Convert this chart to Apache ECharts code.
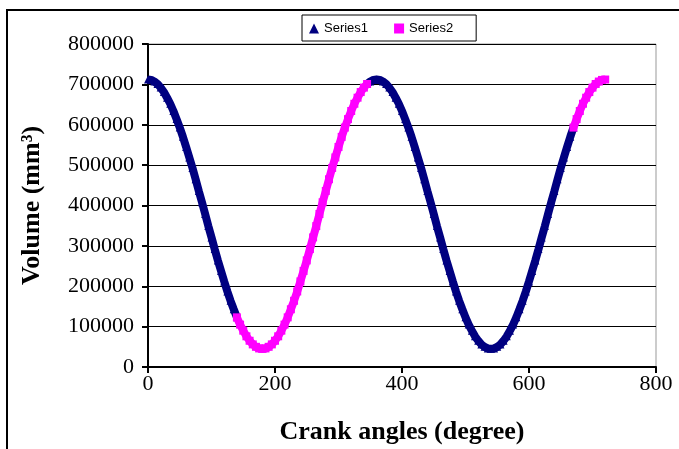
<!DOCTYPE html>
<html>
<head>
<meta charset="utf-8">
<script src="https://cdn.jsdelivr.net/npm/echarts@6/dist/echarts.min.js"></script>
<style>
html,body{margin:0;padding:0;background:#fff;}
#c{width:679px;height:449px;}
</style>
</head>
<body>
<div id="c"></div>
<script>
// Series1 segment A (0–140°)
var s1aAngles = [0,5,10,15,20,25,30,35,40,45,50,55,60,65,70,75,80,85,90,95,100,105,110,115,120,125,130,135,140];
var s1aVolume = [712000,711000,707000,701000,692000,681000,667000,652000,634000,614000,593000,570000,545000,519000,493000,465000,436000,408000,379000,349000,321000,292000,264000,238000,212000,187000,164000,143000,123000];
// Series2 segment A (140–345°)
var s2aAngles = [140,145,150,155,160,165,170,175,180,185,190,195,200,205,210,215,220,225,230,235,240,245,250,255,260,265,270,275,280,285,290,295,300,305,310,315,320,325,330,335,340,345];
var s2aVolume = [123000,105000,90000,76000,65000,56000,50000,46000,45000,46000,50000,56000,65000,76000,90000,105000,123000,143000,164000,187000,212000,238000,264000,292000,321000,349000,379000,408000,436000,465000,493000,519000,545000,570000,593000,614000,634000,652000,667000,681000,692000,701000];
// Series1 segment B (345–670°)
var s1bAngles = [345,350,355,360,365,370,375,380,385,390,395,400,405,410,415,420,425,430,435,440,445,450,455,460,465,470,475,480,485,490,495,500,505,510,515,520,525,530,535,540,545,550,555,560,565,570,575,580,585,590,595,600,605,610,615,620,625,630,635,640,645,650,655,660,665,670];
var s1bVolume = [701000,707000,711000,712000,711000,707000,701000,692000,681000,667000,652000,634000,614000,593000,570000,545000,519000,493000,465000,436000,408000,379000,349000,321000,292000,264000,238000,212000,187000,164000,143000,123000,105000,90000,76000,65000,56000,50000,46000,45000,46000,50000,56000,65000,76000,90000,105000,123000,143000,164000,187000,212000,238000,264000,292000,321000,349000,379000,408000,436000,465000,493000,519000,545000,570000,593000];
// Series2 segment B (670–720°)
var s2bAngles = [670,675,680,685,690,695,700,705,710,715,720];
var s2bVolume = [593000,614000,634000,652000,667000,681000,692000,701000,707000,711000,712000];

var xTicks = [0,200,400,600,800];
var yTicks = [0,100000,200000,300000,400000,500000,600000,700000,800000];

function pairs(a,b){ return a.map(function(v,i){ return [v,b[i]]; }); }

var navy = '#000080', magenta = '#FF00FF';
function seg(name, color, sym, a, b){
  return {
    name: name, type: 'line', data: pairs(a,b),
    symbol: sym, symbolSize: 8, showSymbol: true,
    itemStyle: {color: color},
    lineStyle: {color: color, width: 8},
    animation: false, z: name==='Series2'?3:2
  };
}

var chart = echarts.init(document.getElementById('c'), null, {renderer:'canvas'});
chart.setOption({
  backgroundColor: '#fff',
  animation: false,
  graphic: [
    {type:'rect', shape:{x:7,y:10,width:700,height:460}, style:{fill:'none', stroke:'#000', lineWidth:2}, z:-1}
  ],
  legend: {
    left: 302, top: 15,
    padding: [7, 23, 6, 7],
    itemGap: 26,
    itemWidth: 10, itemHeight: 10,
    borderColor: '#000', borderWidth: 1, borderRadius: 0,
    backgroundColor: '#fff',
    textStyle: {fontFamily: 'Liberation Sans', fontSize: 13, color: '#000'},
    data: [
      {name:'Series1', icon:'triangle', itemStyle:{color:navy}},
      {name:'Series2', icon:'rect', itemStyle:{color:magenta}}
    ]
  },
  grid: {left:148, right:23, top:44, bottom:82, show:true, borderColor:'#999', borderWidth:1, backgroundColor:'#fff', outerBoundsMode:'none', containLabel:false},
  xAxis: {
    type:'value', min:xTicks[0], max:xTicks[xTicks.length-1], interval:200,
    name:'Crank angles (degree)', nameLocation:'middle', nameGap:52,
    nameTextStyle:{fontFamily:'Liberation Serif', fontWeight:'bold', fontSize:26, color:'#000'},
    axisLine:{show:true, onZero:false, lineStyle:{color:'#000', width:2}},
    axisTick:{show:true, inside:false, length:6, lineStyle:{color:'#000', width:2}},
    axisLabel:{fontFamily:'Liberation Serif', fontSize:22, color:'#000', margin:6, formatter:function(v){return String(v);}},
    splitLine:{show:false}
  },
  yAxis: {
    type:'value', min:yTicks[0], max:yTicks[yTicks.length-1], interval:100000,
    name:'Volume (mm³)', nameLocation:'middle', nameGap:103, nameRotate:90,
    nameTextStyle:{fontFamily:'Liberation Serif', fontWeight:'bold', fontSize:26, color:'#000'},
    axisLine:{show:true, lineStyle:{color:'#000', width:2}},
    axisTick:{show:true, inside:false, length:6, lineStyle:{color:'#000', width:2}},
    axisLabel:{fontFamily:'Liberation Serif', fontSize:22, color:'#000', margin:14, formatter:function(v){return String(v);}},
    splitLine:{show:true, lineStyle:{color:'#000', width:1}}
  },
  series: [
    seg('Series1', navy, 'triangle', s1aAngles, s1aVolume),
    seg('Series1', navy, 'triangle', s1bAngles, s1bVolume),
    seg('Series2', magenta, 'rect', s2aAngles, s2aVolume),
    seg('Series2', magenta, 'rect', s2bAngles, s2bVolume)
  ]
});
</script>
</body>
</html>
